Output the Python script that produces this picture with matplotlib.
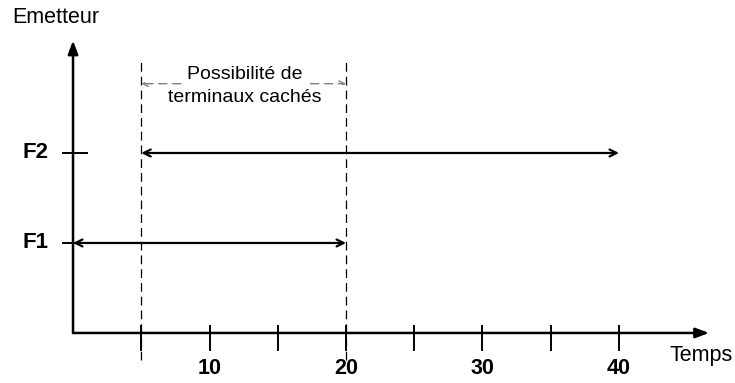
import matplotlib.pyplot as plt

plt.rcParams['font.family'] = ['Liberation Sans', 'DejaVu Sans']

# data
emitters = ['F1', 'F2']
emitter_level = [1, 2]
tx_start = [0, 5]
tx_end = [20, 40]
tick_vals = [5, 10, 15, 20, 25, 30, 35, 40]
tick_labels = ['', '10', '', '20', '', '30', '', '40']
hidden_window = [5, 20]
hidden_text = 'Possibilité de\nterminaux cachés'

fig = plt.figure(figsize=(7.35, 3.83), dpi=100)
ax = fig.add_axes([0, 0, 1, 1])
ax.set_xlim(-5.35, 48.5)
ax.set_ylim(-0.556, 3.7)
ax.axis('off')

# axes with filled arrowheads
ax.annotate('', xy=(46.6, 0), xytext=(0, 0),
            arrowprops=dict(arrowstyle='-|>,head_length=0.8,head_width=0.3',
                            color='black', lw=1.8, shrinkA=0, shrinkB=0))
ax.annotate('', xy=(0, 3.25), xytext=(0, 0),
            arrowprops=dict(arrowstyle='-|>,head_length=0.8,head_width=0.3',
                            color='black', lw=1.8, shrinkA=0, shrinkB=0))

# x ticks
for v, lab in zip(tick_vals, tick_labels):
    ax.plot([v, v], [-0.19, 0.08], color='black', lw=1.4)
    if lab:
        ax.text(v, -0.39, lab, ha='center', va='center', fontsize=15.5, fontweight='bold')

ax.text(733 / 13.65 - 5.35, -0.25, 'Temps', ha='right', va='center', fontsize=15.5)
ax.text(-4.45, 3.5, 'Emetteur', ha='left', va='center', fontsize=15.5)

# emitters
for name, lev, s, e in zip(emitters, emitter_level, tx_start, tx_end):
    ax.plot([-0.7, 1.0], [lev, lev], color='black', lw=1.4)
    ax.text(-1.8, lev, name, ha='right', va='center', fontsize=16, fontweight='bold')
    ax.annotate('', xy=(e, lev), xytext=(s, lev),
                arrowprops=dict(arrowstyle='<->,head_length=0.5,head_width=0.25',
                                color='black', lw=1.6, shrinkA=0, shrinkB=0))

# hidden terminal window
for v in hidden_window:
    ax.plot([v, v], [-0.3, 3.02], color='black', lw=0.9, ls=(0, (7, 4)))
ax.annotate('', xy=(hidden_window[0], 2.77), xytext=(7.9, 2.77),
            arrowprops=dict(arrowstyle='->,head_length=0.4,head_width=0.2',
                            color='gray', lw=1.0, ls=(0, (6, 4)), shrinkA=0, shrinkB=0))
ax.annotate('', xy=(hidden_window[1], 2.77), xytext=(17.4, 2.77),
            arrowprops=dict(arrowstyle='->,head_length=0.4,head_width=0.2',
                            color='gray', lw=1.0, ls=(0, (6, 4)), shrinkA=0, shrinkB=0))
ax.text(12.6, 2.74, hidden_text, ha='center', va='center', fontsize=14, linespacing=1.45)

fig.savefig('out.png', dpi=100)
